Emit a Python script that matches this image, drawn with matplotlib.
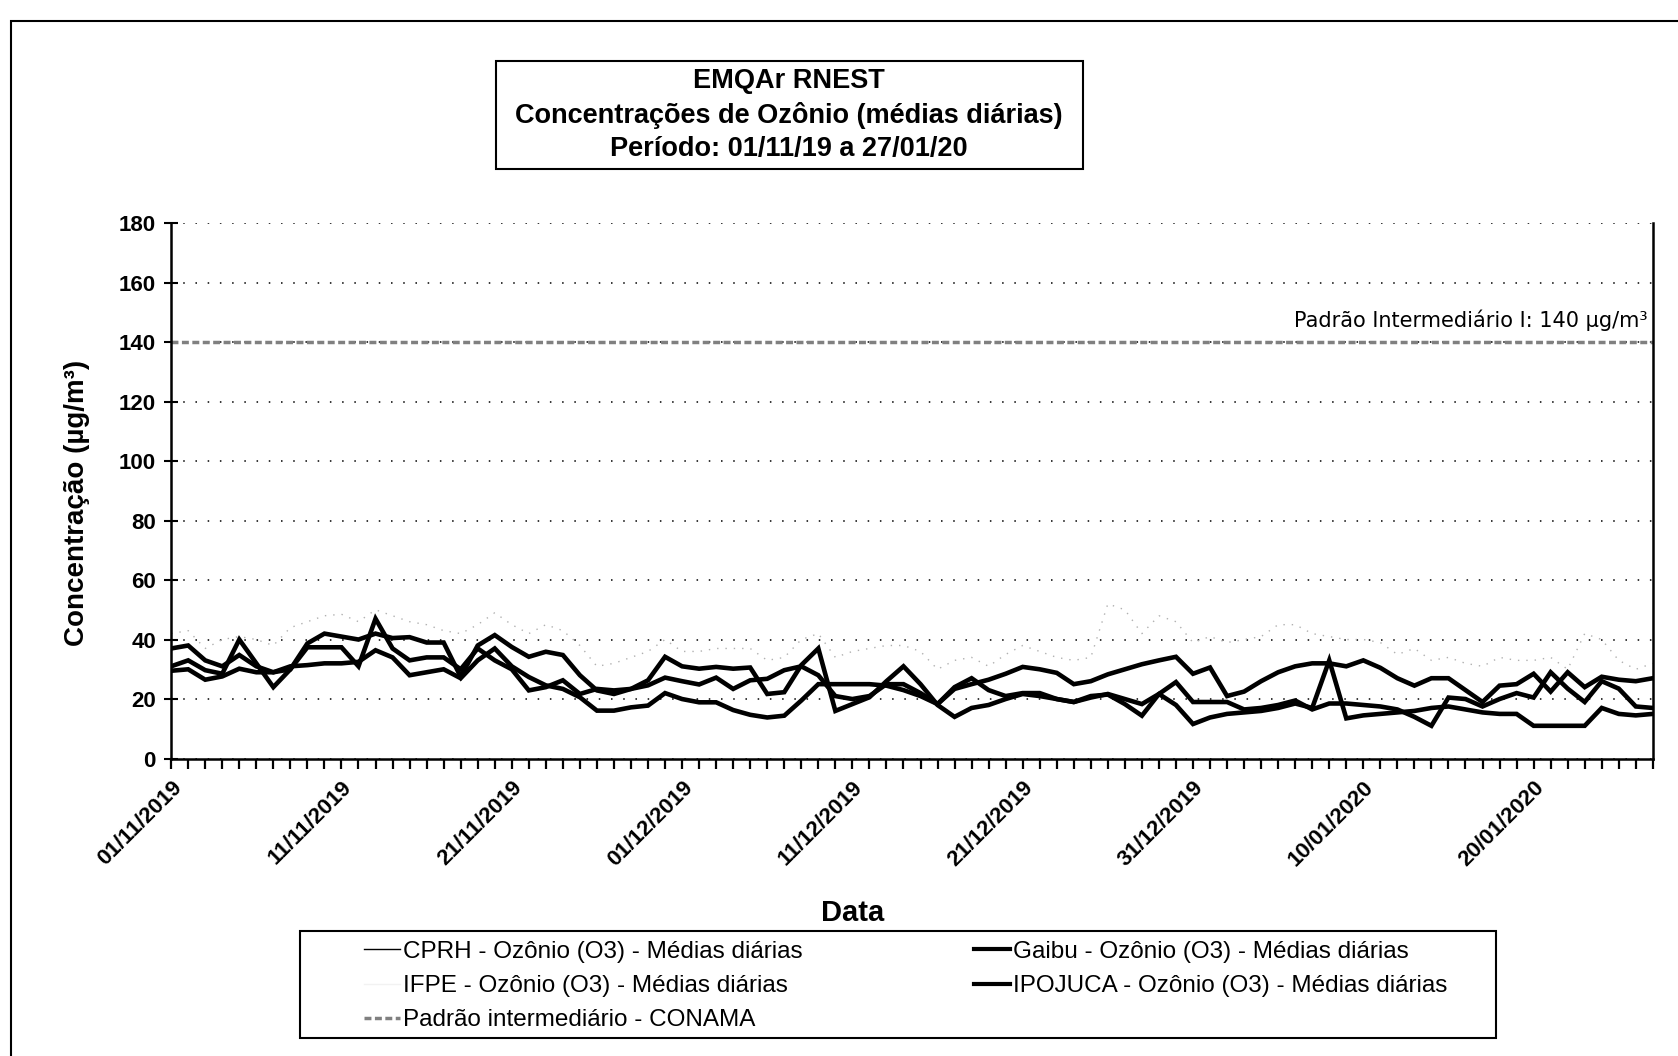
"""Ozone daily means at EMQAr RNEST stations, Nov 2019 - Jan 2020."""
import numpy as np
import pandas as pd
import matplotlib
matplotlib.use("Agg")
import matplotlib.pyplot as plt
from matplotlib.lines import Line2D
from matplotlib.patches import Rectangle

plt.rcParams["font.family"] = ["Liberation Sans", "DejaVu Sans"]

# --- data ---
dates = pd.date_range("2019-11-01", "2020-01-27", freq="D")

gaibu = [37, 38, 33, 31, 34.8, 31, 29, 30, 38.7, 42, 41, 40, 42, 40.5, 40.8, 39, 39, 27.5, 38, 41.5, 37.5,
         34.2, 35.9, 34.8, 28, 22.9, 21.7, 23.4, 26.3, 34.2, 31, 30.2, 30.8, 30.2, 30.6, 21.7, 22.3, 31.4, 37, 16, 18.3, 20.6,
         26, 31, 25, 18, 14, 17, 18, 20, 21.7, 21, 20, 19, 21, 21.5, 18.3, 14.4, 21.7, 25.7, 19, 19, 19,
         16.5, 17, 18, 19.5, 16.5, 18.5, 18.5, 18, 17.5, 16.5, 14, 11, 20.5, 20, 17.5, 20, 22, 20.5, 29, 23.5,
         19, 26, 23.5, 17.5, 17]

ipojuca = [31, 33, 29.7, 28.5, 40, 32, 24, 30, 37.4, 37.4, 37.4, 31, 47, 37, 33, 34, 34, 30, 37, 33, 30,
           22.9, 24, 26.3, 21.7, 23.4, 22.9, 23.4, 24.6, 27.2, 26, 24.9, 27.2, 23.4, 26.3, 26.8, 29.7, 31, 28, 21, 20, 21,
           25, 25, 22, 18.3, 24, 27, 23, 21, 22, 22, 20, 19, 20.5, 21.7, 20, 18.3, 21.7, 18, 11.6, 13.8, 15,
           15.5, 16, 17, 18.5, 17, 33, 13.5, 14.5, 15, 15.5, 16, 17, 17.5, 16.5, 15.5, 15, 15, 11, 11, 11,
           11, 17, 15, 14.5, 15]

cprh = [29.5, 30, 26.5, 27.6, 30.2, 29, 29, 31, 31.4, 32, 32, 32.5, 36.4, 34, 28, 29, 30, 27, 33, 37, 31,
        27.4, 24.6, 23.4, 20.6, 16.1, 16.1, 17.2, 17.8, 22, 20, 18.9, 18.9, 16.3, 14.7, 13.8, 14.4, 19.5, 25, 25, 25, 25,
        24.5, 23, 21, 18.3, 23.4, 25, 26.5, 28.5, 30.8, 30, 28.8, 25, 26, 28.3, 30, 31.7, 33, 34.2, 28.5, 30.6, 21,
        22.5, 26, 29, 31, 32, 32, 31, 33, 30.5, 27, 24.5, 27, 27, 23, 19, 24.5, 25, 28.5, 22.5, 29,
        24, 27.5, 26.5, 26, 27]

# faint (light coloured) series, barely visible in the scan
ifpe = [42, 43, 37, 40, 41, 40, 38, 44, 46, 48,
        48.5, 46, 50, 48, 46, 45, 43, 42, 45, 49,
        45, 42, 45, 43, 38, 31, 32, 34, 36, 40,
        36, 36, 37, 37, 37, 33, 34, 40, 42, 34,
        36, 37, 38, 38, 36, 30, 33, 34, 31, 35,
        38, 36, 34, 33, 34, 52, 50, 42, 48, 46,
        39, 41, 39, 40, 41, 45, 45, 42, 41, 40,
        40, 39, 35, 37, 33, 34, 32, 31, 34, 33,
        33, 34, 30, 42, 40, 33, 30, 32]

padrao = 140
yticks = list(range(0, 181, 20))

labels = ["CPRH - Ozônio (O3) - Médias diárias",
          "Gaibu - Ozônio (O3) - Médias diárias",
          "IFPE - Ozônio (O3) - Médias diárias",
          "IPOJUCA - Ozônio (O3) - Médias diárias",
          "Padrão intermediário - CONAMA"]

# --- figure ---
fig = plt.figure(figsize=(16.78, 10.56), dpi=100)
ax = fig.add_axes([0.102, 0.2817, 0.883, 0.507])

x = np.arange(len(dates))
grey_ls = (0, (2, 1))
ax.plot(x, ifpe, color="#b0b0b0", lw=1.0, ls=(0, (1, 5)))
ax.plot(x, [padrao] * len(x), color="#808080", lw=2.5, ls=grey_ls)
for s in (cprh, ipojuca, gaibu):
    ax.plot(x, s, color="black", lw=3.3, solid_joinstyle="miter")

ax.set_xlim(0, len(dates) - 1)
ax.set_ylim(0, 180)
ax.set_yticks(yticks)
ax.set_yticklabels([str(v) for v in yticks], fontsize=16, fontweight="bold")
ax.yaxis.grid(True, linestyle=(0, (1, 7)), color="black", lw=1.1)
ax.tick_params(axis="y", direction="inout", length=10, width=1.5, pad=6)

xlab = [d.strftime("%d/%m/%Y") if i % 10 == 0 else "" for i, d in enumerate(dates)]
ax.set_xticks(x)
ax.set_xticklabels(xlab, rotation=45, ha="right", rotation_mode="anchor",
                   fontsize=16, fontweight="bold")
ax.tick_params(axis="x", direction="out", length=7, width=1.6, pad=6)

for side in ("left", "bottom", "right"):
    ax.spines[side].set_linewidth(1.8)
ax.spines["top"].set_visible(False)

ax.text(len(dates) - 1.3, 147.5, "Padrão Intermediário I: 140 µg/m³", ha="right", va="center",
        fontsize=15, family="DejaVu Sans")

# titles and axis labels
fig.text(0.046, 0.524, "Concentração (µg/m³)", rotation=90, ha="center", va="center",
         fontsize=20, fontweight="bold")
fig.text(0.508, 0.1358, "Data", ha="center", va="center", fontsize=21, fontweight="bold")

title_lines = ["EMQAr RNEST", "Concentrações de Ozônio (médias diárias)", "Período: 01/11/19 a 27/01/20"]
for t, yy in zip(title_lines, [0.923, 0.8905, 0.859]):
    fig.text(0.4703, yy, t, ha="center", va="center", fontsize=19.5, fontweight="bold")
fig.add_artist(Rectangle((0.2953, 0.840), 0.3501, 0.102, transform=fig.transFigure,
                         fill=False, lw=1.5, color="black"))

# legend (two columns, framed by hand)
h_cprh = Line2D([], [], color="black", lw=1.0)
h_gaibu = Line2D([], [], color="black", lw=3.0)
h_ifpe = Line2D([], [], color="#f2f2f2", lw=1.0)
h_ipoj = Line2D([], [], color="black", lw=3.0)
h_pad = Line2D([], [], color="#808080", lw=2.5, ls=grey_ls)

common = dict(loc="upper left", frameon=False, fontsize=17.5, handlelength=1.5,
              handletextpad=0.12, labelspacing=0.5, borderpad=0, borderaxespad=0)
fig.legend([h_cprh, h_ifpe, h_pad], [labels[0], labels[2], labels[4]],
           bbox_to_anchor=(0.2168, 0.109), **common)
fig.legend([h_gaibu, h_ipoj], [labels[1], labels[3]],
           bbox_to_anchor=(0.5804, 0.109), **common)
fig.add_artist(Rectangle((0.1786, 0.0172), 0.713, 0.1013, transform=fig.transFigure,
                         fill=False, lw=1.5, color="black"))

# outer chart frame
fig.add_artist(Rectangle((0.0064, -0.05), 1.1, 1.03, transform=fig.transFigure,
                         fill=False, lw=1.5, color="black"))

fig.savefig("out.png", dpi=100)
